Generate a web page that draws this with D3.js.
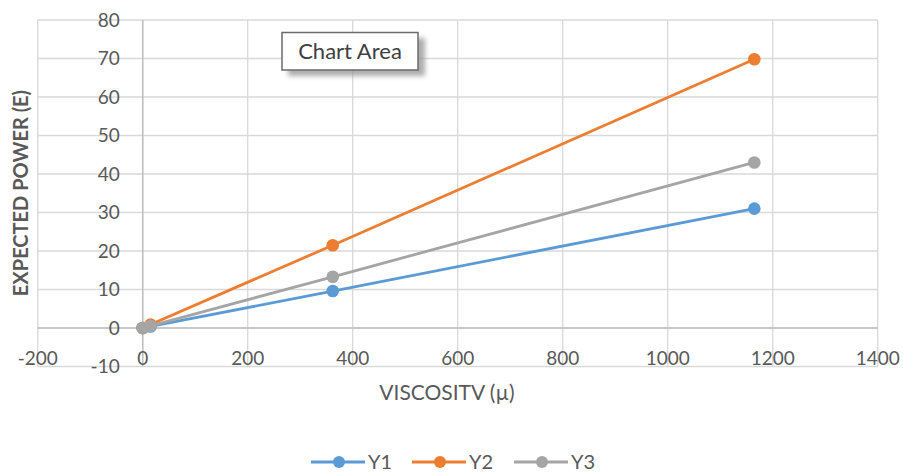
<!DOCTYPE html>
<html><head><meta charset="utf-8">
<script src="https://cdn.jsdelivr.net/npm/d3@7"></script>
<style>
body{margin:0;background:#fff;}
text{font-family:Lato,"Open Sans",sans-serif;}
</style></head>
<body><svg id="c" width="903" height="473"></svg>
<script>
const xValues = [0, 15, 362, 1165];
const y1Values = [0, 0.4, 9.6, 31];
const y2Values = [0, 0.9, 21.5, 69.8];
const y3Values = [0, 0.55, 13.3, 43];
const seriesNames = ["Y1", "Y2", "Y3"];
const seriesColors = ["#5B9BD5", "#ED7D31", "#A5A5A5"];
const xTicks = [-200, 0, 200, 400, 600, 800, 1000, 1200, 1400];
const yTicks = [-10, 0, 10, 20, 30, 40, 50, 60, 70, 80];
const xTitle = "VISCOSITV (µ)";
const yTitle = "EXPECTED POWER (E)";

const svg = d3.select("#c");
const x = d3.scaleLinear().domain([-200, 1400]).range([37.7, 877.7]);
const y = d3.scaleLinear().domain([-10, 80]).range([366.5, 20]);

// gridlines
const g = svg.append("g");
g.selectAll(".hg").data(yTicks).enter().append("line")
  .attr("x1", x(-200)).attr("x2", x(1400))
  .attr("y1", d => y(d)).attr("y2", d => y(d))
  .attr("stroke", "#d9d9d9").attr("stroke-width", 1.3);
g.selectAll(".vg").data(xTicks).enter().append("line")
  .attr("y1", y(80)).attr("y2", y(-10))
  .attr("x1", d => x(d)).attr("x2", d => x(d))
  .attr("stroke", "#d9d9d9").attr("stroke-width", 1.3);
// axis lines
g.append("line").attr("x1", x(-200)).attr("x2", x(1400)).attr("y1", y(0)).attr("y2", y(0))
  .attr("stroke", "#bfbfbf").attr("stroke-width", 1.5);
g.append("line").attr("x1", x(0)).attr("x2", x(0)).attr("y1", y(80)).attr("y2", y(-10))
  .attr("stroke", "#bfbfbf").attr("stroke-width", 1.5);

// tick labels
svg.selectAll(".yl").data(yTicks).enter().append("text")
  .attr("x", x(0) - 23).attr("y", d => y(d)).attr("dy", "0.36em")
  .attr("text-anchor", "end").attr("fill", "#595959").attr("font-size", 19)
  .text(d => d);
svg.selectAll(".xl").data(xTicks).enter().append("text")
  .attr("x", d => x(d)).attr("y", y(0) + 30).attr("dy", "0.36em")
  .attr("text-anchor", "middle").attr("fill", "#595959").attr("font-size", 19)
  .text(d => d);

// titles
svg.append("text").attr("x", 447).attr("y", 392).attr("dy", "0.36em")
  .attr("text-anchor", "middle").attr("fill", "#595959").attr("font-size", 21)
  .text(xTitle);
svg.append("text").attr("transform", "translate(21,193) rotate(-90)").attr("dy", "0.36em")
  .attr("text-anchor", "middle").attr("fill", "#595959").attr("font-size", 20).attr("font-weight", "bold")
  .text(yTitle);

// series
const allSeries = [y1Values, y2Values, y3Values];
const line = d3.line().x(d => x(d[0])).y(d => y(d[1]));
allSeries.forEach((vals, i) => {
  const pts = xValues.map((xv, j) => [xv, vals[j]]);
  svg.append("path").datum(pts).attr("d", line).attr("fill", "none")
    .attr("stroke", seriesColors[i]).attr("stroke-width", 2.8).attr("stroke-linecap", "round");
  svg.selectAll(".m" + i).data(pts).enter().append("circle")
    .attr("cx", d => x(d[0])).attr("cy", d => y(d[1])).attr("r", 6.3)
    .attr("fill", seriesColors[i]);
});

// legend
const legX = [311, 412, 514];
const legY = 462;
seriesNames.forEach((n, i) => {
  svg.append("line").attr("x1", legX[i]).attr("x2", legX[i] + 54).attr("y1", legY).attr("y2", legY)
    .attr("stroke", seriesColors[i]).attr("stroke-width", 2.8);
  svg.append("circle").attr("cx", legX[i] + 28).attr("cy", legY).attr("r", 6).attr("fill", seriesColors[i]);
  svg.append("text").attr("x", legX[i] + 57).attr("y", legY).attr("dy", "0.36em")
    .attr("fill", "#595959").attr("font-size", 20).text(n);
});

// "Chart Area" tooltip
const defs = svg.append("defs");
const f = defs.append("filter").attr("id", "blur").attr("x", "-20%").attr("y", "-20%").attr("width", "140%").attr("height", "140%");
f.append("feGaussianBlur").attr("stdDeviation", 2.5);
svg.append("rect").attr("x", 288).attr("y", 38).attr("width", 137).attr("height", 38)
  .attr("fill", "#9a9a9a").attr("filter", "url(#blur)").attr("opacity", 0.8);
svg.append("rect").attr("x", 282).attr("y", 32.5).attr("width", 136).attr("height", 37.5)
  .attr("fill", "#fff").attr("stroke", "#6b6b6b").attr("stroke-width", 1.5);
svg.append("text").attr("x", 350).attr("y", 51.5).attr("dy", "0.36em")
  .attr("text-anchor", "middle").attr("fill", "#404040").attr("font-size", 22).text("Chart Area");
</script></body></html>
